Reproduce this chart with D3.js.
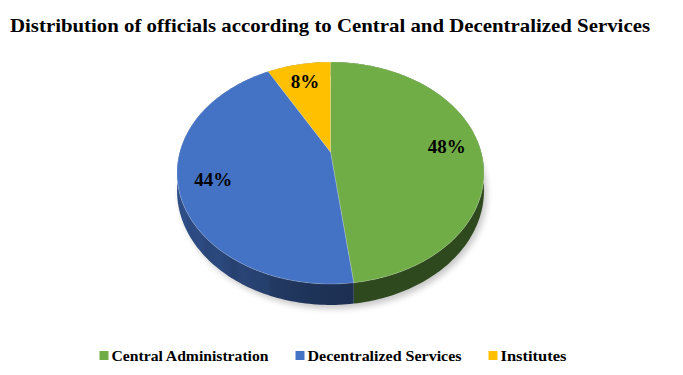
<!DOCTYPE html>
<html>
<head>
<meta charset="utf-8">
<script src="https://cdn.jsdelivr.net/npm/d3@7"></script>
<style>
  html, body { margin: 0; padding: 0; background: #fff; }
  svg { display: block; }
  text { font-family: "Liberation Serif", "DejaVu Serif", serif; font-weight: bold; fill: #000; }
</style>
</head>
<body>
<svg id="chart" width="683" height="375"></svg>
<script>
const categories = ["Central Administration", "Decentralized Services", "Institutes"];
const shares = [48, 44, 8];
const pctLabels = ["48%", "44%", "8%"];
const colors = ["#70AD47", "#4472C4", "#FFC000"];
const title = "Distribution of officials according to Central and Decentralized Services";

const width = 683, height = 375;
// perspective pie: center x, half width, projected center y, tilt, perspective factor, wall height
const view = {cx: 330.5, c: 150.7, a: 152, b: 78.3, k: -0.189, depth: 17};

const svg = d3.select("#chart");

// point on the pie disk (angle clockwise from 12 o'clock, radius 0..1) -> screen
function proj(theta, r, h) {
    const u = r * Math.sin(theta), v = -r * Math.cos(theta);
    const w = 1 + view.k * v;
    return [view.cx + view.c * u / w, (view.a + view.b * v + (h || 0)) / w];
}

function arcPoints(a0, a1, h) {
    const n = Math.max(2, Math.ceil((a1 - a0) / 0.02));
    return d3.range(n + 1).map(i => proj(a0 + (a1 - a0) * i / n, 1, h));
}

function sideColor(base, theta) {
    const f = 0.42 + 0.27 * Math.max(0, -Math.sin(theta));
    const c = d3.rgb(base);
    return d3.rgb(c.r * f, c.g * f, c.b * f).formatHex();
}

const pie = d3.pie().sort(null).value(d => d);
const arcs = pie(shares);
const line = d3.line();

const defs = svg.append("defs");
defs.append("filter").attr("id", "blur").attr("x", "-20%").attr("y", "-20%")
    .attr("width", "140%").attr("height", "140%")
    .append("feGaussianBlur").attr("stdDeviation", 3);

// soft shadow
svg.append("path")
    .attr("d", line(arcPoints(0, 2 * Math.PI, view.depth + 3).map(p => [p[0] + 3, p[1]])) + "Z")
    .attr("fill", "#000")
    .attr("opacity", 0.22)
    .attr("filter", "url(#blur)");

// side walls, one path per slice with a horizontal gradient
const walls = svg.append("g");
arcs.forEach((d, i) => {
    const top = arcPoints(d.startAngle, d.endAngle, 0);
    const bottom = arcPoints(d.startAngle, d.endAngle, view.depth).reverse();
    const xs = top.map(p => p[0]);
    const x0 = d3.min(xs), x1 = d3.max(xs);
    const grad = defs.append("linearGradient")
        .attr("id", "side" + i)
        .attr("gradientUnits", "userSpaceOnUse")
        .attr("x1", x0).attr("x2", x1 > x0 ? x1 : x0 + 1)
        .attr("y1", 0).attr("y2", 0);
    const steps = 12;
    const samples = d3.range(steps + 1).map(s => {
        const t = d.startAngle + (d.endAngle - d.startAngle) * s / steps;
        return {x: proj(t, 1, 0)[0], col: sideColor(colors[i], t)};
    }).sort((p, q) => p.x - q.x);
    samples.forEach(s => {
        grad.append("stop")
            .attr("offset", x1 > x0 ? (s.x - x0) / (x1 - x0) : 0)
            .attr("stop-color", s.col);
    });
    walls.append("path")
        .attr("d", line(top.concat(bottom)) + "Z")
        .attr("fill", "url(#side" + i + ")");
});

// top faces
svg.append("g").selectAll("path")
    .data(arcs)
    .join("path")
    .attr("d", d => line([proj(0, 0, 0)].concat(arcPoints(d.startAngle, d.endAngle, 0))) + "Z")
    .attr("fill", (d, i) => colors[i])
    .attr("stroke", "#ffffff")
    .attr("stroke-opacity", 0.35)
    .attr("stroke-width", 0.6)
    .attr("stroke-linejoin", "round");

// percentage labels
svg.append("g").selectAll("text")
    .data(arcs)
    .join("text")
    .attr("x", d => proj((d.startAngle + d.endAngle) / 2, 0.78, 0)[0])
    .attr("y", d => proj((d.startAngle + d.endAngle) / 2, 0.78, 0)[1])
    .attr("dy", "0.35em")
    .attr("text-anchor", "middle")
    .style("font-size", "19px")
    .text((d, i) => pctLabels[i]);

// title
svg.append("text")
    .attr("x", 10)
    .attr("y", 32)
    .attr("textLength", 640)
    .attr("lengthAdjust", "spacingAndGlyphs")
    .style("font-size", "19px")
    .text(title);

// legend
const legendWidths = [157, 154, 66];
const sq = 9, gapIn = 3, gapOut = 27;
const total = d3.sum(legendWidths) + legendWidths.length * (sq + gapIn) + (legendWidths.length - 1) * gapOut;
let lx = 333 - total / 2;
const legend = svg.append("g");
categories.forEach((name, i) => {
    legend.append("rect")
        .attr("x", lx).attr("y", 351)
        .attr("width", sq).attr("height", sq)
        .attr("fill", colors[i]);
    legend.append("text")
        .attr("x", lx + sq + gapIn)
        .attr("y", 360.5)
        .attr("textLength", legendWidths[i])
        .attr("lengthAdjust", "spacingAndGlyphs")
        .style("font-size", "14.5px")
        .text(name);
    lx += sq + gapIn + legendWidths[i] + gapOut;
});
</script>
</body>
</html>
